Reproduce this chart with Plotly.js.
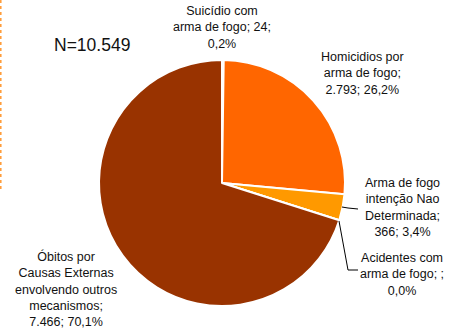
<!DOCTYPE html>
<html>
<head>
<meta charset="utf-8">
<script src="https://cdn.plot.ly/plotly-3.0.1.min.js"></script>
<style>html,body{margin:0;padding:0;background:#fff;}#chart{width:454px;height:331px;}</style>
</head>
<body>
<div id="chart"></div>
<script>
const categories = [
  "Suicídio com arma de fogo",
  "Homicidios por arma de fogo",
  "Arma de fogo intenção Nao Determinada",
  "Acidentes com arma de fogo",
  "Óbitos por Causas Externas envolvendo outros mecanismos"
];
const values = [24, 2793, 366, 0, 7466];
const labelTexts = [
  "Suicídio com<br>arma de fogo; 24;<br>0,2%",
  "Homicidios por<br>arma de fogo;<br>2.793; 26,2%",
  "Arma de fogo<br>intenção Nao<br>Determinada;<br>366; 3,4%",
  "Acidentes com<br>arma de fogo; ;<br>0,0%",
  "Óbitos por<br>Causas Externas<br>envolvendo outros<br>mecanismos;<br>7.466; 70,1%"
];
const colors = ["#FFFFFF", "#FF6600", "#FF9900", "#FFCC00", "#993300"];
const totalLabel = "N=10.549";

const W = 454, H = 331;
const px = x => x / W;
const py = y => 1 - y / H;
const cx = 222, cy = 183, r = 123;

// label positions (pixel centre of each text block)
const labelPos = [[222, 28], [362, 73.5], [402, 207.5], [402, 274.5], [66, 289]];

const annotations = labelTexts.map((t, i) => ({
  text: t, xref: 'paper', yref: 'paper',
  x: px(labelPos[i][0]), y: py(labelPos[i][1]),
  xanchor: 'center', yanchor: 'middle', align: 'center', showarrow: false,
  font: {family: 'Liberation Sans, Arial, sans-serif', size: 12.5, color: '#111'}
}));
annotations.push({
  text: totalLabel, xref: 'paper', yref: 'paper', x: px(92), y: py(45),
  xanchor: 'center', yanchor: 'middle', showarrow: false,
  font: {family: 'Liberation Sans, Arial, sans-serif', size: 17.5, color: '#111'}
});

const lineStyle = {color: '#000', width: 1};
const shapes = [
  {type: 'path', xref: 'paper', yref: 'paper',
   path: `M ${px(342)} ${py(207)} L ${px(348)} ${py(208)} L ${px(358)} ${py(209)}`, line: lineStyle},
  {type: 'path', xref: 'paper', yref: 'paper',
   path: `M ${px(339)} ${py(221)} L ${px(348)} ${py(270)} L ${px(358)} ${py(270)}`, line: lineStyle},
  {type: 'line', xref: 'paper', yref: 'paper', x0: px(0.8), x1: px(0.8), y0: py(0), y1: py(190),
   line: {color: '#FF9933', width: 1.5, dash: 'dot'}}
];

const data = [{
  type: 'pie',
  labels: categories,
  values: values,
  sort: false,
  direction: 'clockwise',
  rotation: 0,
  textinfo: 'none',
  hoverinfo: 'label+value+percent',
  marker: {colors: colors, line: {color: '#FFFFFF', width: 2}},
  domain: {x: [px(cx - r), px(cx + r)], y: [py(cy + r), py(cy - r)]},
  showlegend: false
}];

const layout = {
  width: W, height: H,
  margin: {l: 0, r: 0, t: 0, b: 0},
  paper_bgcolor: '#fff',
  showlegend: false,
  annotations: annotations,
  shapes: shapes
};

Plotly.newPlot('chart', data, layout, {displayModeBar: false, staticPlot: true});
</script>
</body>
</html>
